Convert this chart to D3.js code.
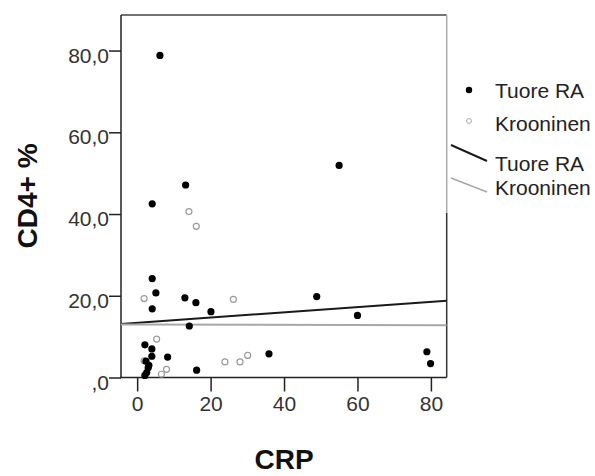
<!DOCTYPE html>
<html>
<head>
<meta charset="utf-8">
<script src="https://cdn.jsdelivr.net/npm/d3@7"></script>
<style>
  body { margin: 0; background: #fff; }
  svg { display: block; font-family: "Liberation Sans", Arial, sans-serif; }
</style>
</head>
<body>
<svg id="chart" width="595" height="476"></svg>
<script>
// data
const groups = ["Tuore RA", "Krooninen"];

// Tuore RA: [CRP, CD4+ %]
const tuorePoints = [
  [6.2, 78.8], [4.1, 42.5], [13.2, 47.1], [55.0, 51.9], [4.1, 24.2],
  [5.1, 20.7], [4.1, 16.8], [13.0, 19.5], [16.0, 18.3], [20.1, 16.1],
  [48.9, 19.8], [35.9, 5.8], [60.0, 15.2], [78.9, 6.3], [79.9, 3.4],
  [14.2, 12.6], [16.2, 1.8], [8.3, 5.0], [2.1, 8.0], [4.0, 7.0],
  [4.0, 5.2], [2.4, 4.0], [3.0, 2.4], [2.6, 1.2], [2.1, 0.5], [3.2, 3.0]
];

// Krooninen: [CRP, CD4+ %]
const kroonPoints = [
  [14.1, 40.6], [16.1, 37.0], [1.9, 19.3], [26.2, 19.1], [23.9, 3.8],
  [28.0, 3.8], [30.1, 5.4], [5.3, 9.4], [8.0, 2.0], [1.9, 4.1], [6.6, 0.8]
];

// fit lines: intercept and slope per group
const fitIntercepts = [13.4, 12.95];
const fitSlopes = [0.064, -0.002];

const xTicks = [0, 20, 40, 60, 80];
const yTicks = [0, 20, 40, 60, 80];
const xDomain = [-4.4, 84.3];
const yDomain = [0, 88.7];

const svg = d3.select("#chart");

const plot = { left: 121, right: 446.7, top: 15, bottom: 377.5 };

const x = d3.scaleLinear().domain(xDomain).range([plot.left, plot.right]);
const y = d3.scaleLinear().domain(yDomain).range([plot.bottom, plot.top]);

const fmt = v => v === 0 ? ",0" : d3.format(".1f")(v).replace(".", ",");

// y axis
const yAxis = svg.append("g")
  .attr("transform", `translate(${plot.left},0)`)
  .call(d3.axisLeft(y).tickValues(yTicks).tickSize(12).tickSizeOuter(0).tickPadding(0).tickFormat(fmt));
yAxis.select(".domain").remove();
yAxis.selectAll(".tick line").attr("stroke", "#222").attr("stroke-width", 1.5);
yAxis.selectAll(".tick text")
  .attr("fill", "#333")
  .style("font-size", "21px")
  .style("font-family", "'Liberation Sans', Arial, sans-serif")
  .attr("dy", "0.55em");

// x axis
const xAxis = svg.append("g")
  .attr("transform", `translate(0,${plot.bottom})`)
  .call(d3.axisBottom(x).tickValues(xTicks).tickSize(14).tickSizeOuter(0).tickPadding(5));
xAxis.select(".domain").remove();
xAxis.selectAll(".tick line").attr("stroke", "#222").attr("stroke-width", 1.5);
xAxis.selectAll(".tick text")
  .attr("fill", "#333")
  .style("font-size", "21px")
  .style("font-family", "'Liberation Sans', Arial, sans-serif");

// frame
svg.append("line").attr("x1", plot.left).attr("x2", plot.right)
  .attr("y1", plot.top).attr("y2", plot.top)
  .attr("stroke", "#444").attr("stroke-width", 1.5);
svg.append("line").attr("x1", plot.left).attr("x2", plot.left)
  .attr("y1", plot.top).attr("y2", plot.bottom)
  .attr("stroke", "#222").attr("stroke-width", 1.5);
svg.append("line").attr("x1", plot.left - 0.7).attr("x2", plot.right)
  .attr("y1", plot.bottom).attr("y2", plot.bottom)
  .attr("stroke", "#222").attr("stroke-width", 1.5);
svg.append("line").attr("x1", plot.right).attr("x2", plot.right)
  .attr("y1", plot.top).attr("y2", 213)
  .attr("stroke", "#aaa").attr("stroke-width", 1.5);
svg.append("line").attr("x1", plot.right).attr("x2", plot.right)
  .attr("y1", 213).attr("y2", plot.bottom)
  .attr("stroke", "#333").attr("stroke-width", 1.5);

// fit lines
const fitColors = ["#1a1a1a", "#a8a8a8"];
groups.forEach((g, i) => {
  const pts = xDomain.map(v => [v, fitIntercepts[i] + fitSlopes[i] * v]);
  svg.append("path")
    .datum(pts)
    .attr("fill", "none")
    .attr("stroke", fitColors[i])
    .attr("stroke-width", 2)
    .attr("d", d3.line().x(d => x(d[0])).y(d => y(d[1])));
});

// points
svg.append("g")
  .selectAll("circle")
  .data(kroonPoints)
  .join("circle")
  .attr("cx", d => x(d[0]))
  .attr("cy", d => y(d[1]))
  .attr("r", 3)
  .attr("fill", "none")
  .attr("stroke", "#9a9a9a")
  .attr("stroke-width", 1.2);

svg.append("g")
  .selectAll("circle")
  .data(tuorePoints)
  .join("circle")
  .attr("cx", d => x(d[0]))
  .attr("cy", d => y(d[1]))
  .attr("r", 3.6)
  .attr("fill", "#000");

// axis titles
svg.append("text")
  .attr("x", 284)
  .attr("y", 469)
  .attr("text-anchor", "middle")
  .style("font-size", "28px")
  .style("font-weight", "bold")
  .attr("fill", "#111")
  .text("CRP");

svg.append("text")
  .attr("transform", "translate(37,196) rotate(-90)")
  .attr("text-anchor", "middle")
  .style("font-size", "28px")
  .style("font-weight", "bold")
  .attr("fill", "#111")
  .text("CD4+ %");

// legend
const legend = svg.append("g");
const legendText = { x: 495, size: "21px" };

legend.append("circle").attr("cx", 469).attr("cy", 90).attr("r", 3.2).attr("fill", "#000");
legend.append("text").attr("x", legendText.x).attr("y", 98)
  .style("font-size", legendText.size).attr("fill", "#222").text(groups[0]);

legend.append("circle").attr("cx", 469).attr("cy", 121).attr("r", 2.4)
  .attr("fill", "none").attr("stroke", "#aaa").attr("stroke-width", 1);
legend.append("text").attr("x", legendText.x).attr("y", 130.5)
  .style("font-size", legendText.size).attr("fill", "#222").text(groups[1]);

legend.append("line").attr("x1", 451).attr("y1", 145).attr("x2", 487).attr("y2", 161)
  .attr("stroke", fitColors[0]).attr("stroke-width", 2);
legend.append("text").attr("x", legendText.x).attr("y", 170.5)
  .style("font-size", legendText.size).attr("fill", "#222").text(groups[0]);

legend.append("line").attr("x1", 451).attr("y1", 178).attr("x2", 487).attr("y2", 192)
  .attr("stroke", fitColors[1]).attr("stroke-width", 1.5);
legend.append("text").attr("x", legendText.x).attr("y", 195)
  .style("font-size", legendText.size).attr("fill", "#222").text(groups[1]);
</script>
</body>
</html>
